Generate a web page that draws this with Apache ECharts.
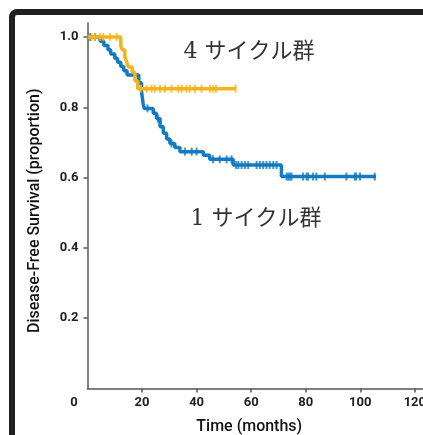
<!DOCTYPE html>
<html><head><meta charset="utf-8">
<script src="https://cdn.jsdelivr.net/npm/echarts@6/dist/echarts.min.js"></script>
<style>html,body{margin:0;padding:0;background:#fff}#c{width:423px;height:435px}</style>
</head><body><div id="c"></div>
<script>
// tick labels
const xTicks = [0, 20, 40, 60, 80, 100, 120];
const yTicks = [0.2, 0.4, 0.6, 0.8, 1.0];
const groupNames = ['4 サイクル群', '1 サイクル群'];

// 4-cycle group: [time (months), survival after event]
const fourCycleSteps = [[0,1.0],[12.2,0.975],[12.8,0.963],[13.7,0.945],[14.3,0.93],[15.0,0.915],[16.4,0.9],[17.4,0.875],[18.4,0.853]];
const fourCycleEnd = 54.3;
const fourCycleCensor = [1.5,2.7,4.6,5.8,8.2,10.7,19.6,21.7,23.5,24.7,26.6,28.4,30.8,33.3,34.5,36.3,37.5,39.4,41.8,44.9,46.1,47.1,54.3];

// 1-cycle group
const oneCycleSteps = [[0,1.0],[4.6,0.988],[6.0,0.976],[7.5,0.964],[8.5,0.952],[10.0,0.94],[11.0,0.928],[12.2,0.916],[13.3,0.904],[14.5,0.892],[18.8,0.869],[19.8,0.845],[20.4,0.81],[20.8,0.797],[24.1,0.783],[25.3,0.768],[26.6,0.745],[27.8,0.726],[29.0,0.71],[30.2,0.697],[32.0,0.686],[33.9,0.674],[42.5,0.664],[44.8,0.652],[53.4,0.636],[71.1,0.603]];
const oneCycleEnd = 105.8;
const oneCycleCensor = [1.0,2.8,22.0,25.8,30.8,35.7,38.2,40.0,46.0,48.5,51.0,52.8,54.5,55.3,56.5,57.7,58.9,62.0,63.2,64.4,65.6,66.8,68.1,69.3,73.0,73.6,74.2,74.8,79.0,80.3,80.9,82.7,83.9,87.0,94.9,98.0,98.5,99.9,105.3];

function lineData(steps, end){ return steps.concat([[end, steps[steps.length-1][1]]]); }
function survAt(steps, t){ let s = steps[0][1]; for (const p of steps){ if (p[0] <= t) s = p[1]; } return s; }
function censorData(steps, ts){ return ts.map(t => [t, survAt(steps, t)]); }

const YELLOW = '#F4B41A', BLUE = '#127BC1';
const tickFont = {fontFamily:'Liberation Sans Narrow, Arial Narrow, Roboto, sans-serif', fontSize:13, fontWeight:'bold', color:'#222'};
const axisLineStyle = {color:'#555', width:1.5};

const chart = echarts.init(document.getElementById('c'));
chart.setOption({
  animation:false,
  backgroundColor:'#fff',
  grid:{left:87.5, right:0, top:23, bottom:46.5, containLabel:false, outerBoundsMode:'none'},
  xAxis:{type:'value', min:0, max:123,
    name:'Time (months)', nameLocation:'middle', nameGap:30,
    nameTextStyle:{fontFamily:'Liberation Sans Narrow, Arial Narrow, Roboto, sans-serif', fontSize:16, fontWeight:500, color:'#111', padding:[0,12,0,0]},
    axisLine:{show:true, onZero:false, lineStyle:axisLineStyle},
    axisTick:{show:true, length:4, lineStyle:axisLineStyle, customValues:xTicks.filter(v=>v>0)},
    axisLabel:Object.assign({margin:8, customValues:xTicks, formatter:v=> v===0 ? '{z|0}' : String(v),
      rich:{z:Object.assign({padding:[0,27,0,0]}, tickFont)}}, tickFont),
    splitLine:{show:false}},
  yAxis:{type:'value', min:0, max:1.04,
    name:'Disease-Free Survival (proportion)', nameLocation:'middle', nameGap:45,
    nameTextStyle:{fontFamily:'Liberation Sans Narrow, Arial Narrow, Roboto, sans-serif', fontSize:16, fontWeight:500, color:'#111', padding:[0,10,0,0]},
    axisLine:{show:true, onZero:false, lineStyle:axisLineStyle},
    axisTick:{show:true, length:4, lineStyle:axisLineStyle, customValues:yTicks},
    axisLabel:Object.assign({margin:9, customValues:yTicks, formatter:v=>v.toFixed(1)}, tickFont),
    splitLine:{show:false}},
  series:[
    {name:groupNames[1], type:'line', step:'end', data:lineData(oneCycleSteps, oneCycleEnd), showSymbol:false, symbol:'none',
      lineStyle:{color:BLUE, width:3.5}, z:2},
    {type:'scatter', data:censorData(oneCycleSteps, oneCycleCensor), symbol:'rect', symbolSize:[2,8],
      itemStyle:{color:BLUE}, z:3},
    {name:groupNames[0], type:'line', step:'end', data:lineData(fourCycleSteps, fourCycleEnd), showSymbol:false, symbol:'none',
      lineStyle:{color:YELLOW, width:3.5}, z:4},
    {type:'scatter', data:censorData(fourCycleSteps, fourCycleCensor), symbol:'rect', symbolSize:[2,8],
      itemStyle:{color:YELLOW}, z:5}
  ],
  graphic:[
    {type:'rect', silent:true, z:-10, shape:{x:12, y:12, width:700, height:700, r:5},
      style:{fill:'none', stroke:'#231f20', lineWidth:6}},
    {type:'text', x:249, y:52.5, style:{text:groupNames[0], fontSize:22, fontFamily:'DejaVu Serif, Noto Sans CJK JP', fill:'#333', align:'center', verticalAlign:'middle'}},
    {type:'text', x:256, y:219, style:{text:groupNames[1], fontSize:22, fontFamily:'DejaVu Serif, Noto Sans CJK JP', fill:'#333', align:'center', verticalAlign:'middle'}}
  ]
});
</script>
</body></html>
